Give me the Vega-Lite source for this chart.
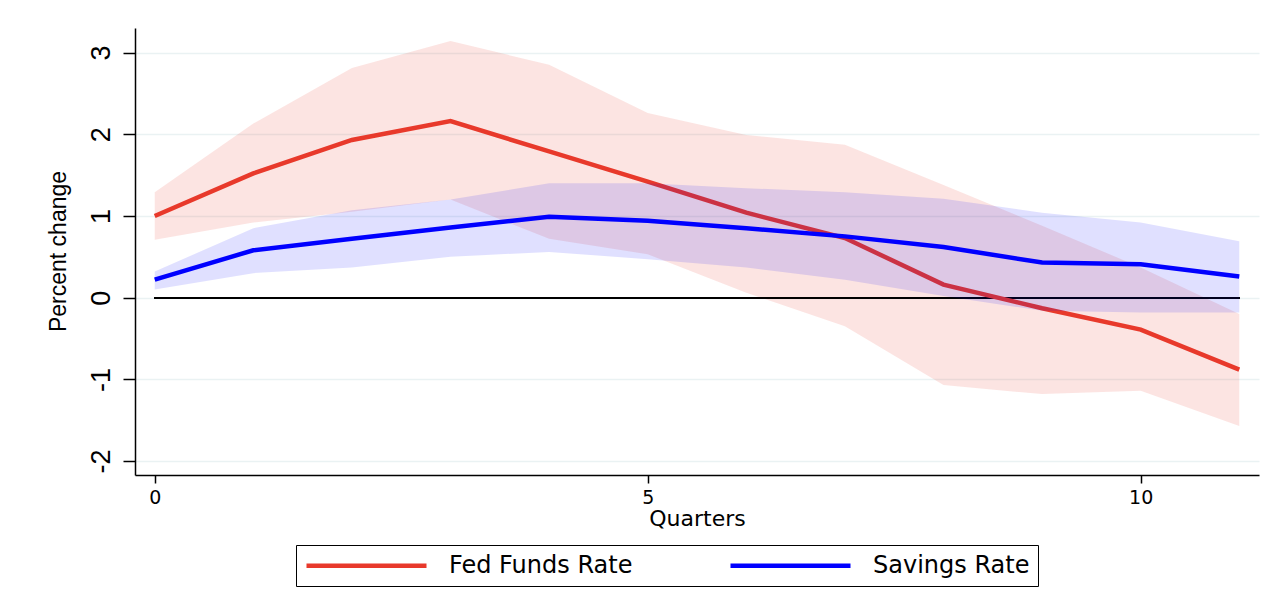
{
  "$schema": "https://vega.github.io/schema/vega-lite/v6.json",
  "width": 1124,
  "height": 447,
  "autosize": {"type": "none"},
  "padding": {"left": 135, "top": 28, "right": 25, "bottom": 134},
  "background": "white",
  "config": {
    "view": {"stroke": null},
    "axis": {"domainColor": "#000000", "domainWidth": 1.5, "tickColor": "#000000", "tickWidth": 1.5, "labelColor": "#000000", "titleColor": "#000000", "titleFontWeight": "normal"}
  },
  "data": {
    "values": [
      {"q": 0, "series": "Fed Funds Rate", "est": 1.00, "lo": 0.71, "hi": 1.29},
      {"q": 1, "series": "Fed Funds Rate", "est": 1.52, "lo": 0.92, "hi": 2.13},
      {"q": 2, "series": "Fed Funds Rate", "est": 1.93, "lo": 1.05, "hi": 2.81},
      {"q": 3, "series": "Fed Funds Rate", "est": 2.16, "lo": 1.20, "hi": 3.14},
      {"q": 4, "series": "Fed Funds Rate", "est": 1.79, "lo": 0.72, "hi": 2.85},
      {"q": 5, "series": "Fed Funds Rate", "est": 1.42, "lo": 0.53, "hi": 2.26},
      {"q": 6, "series": "Fed Funds Rate", "est": 1.04, "lo": 0.06, "hi": 1.99},
      {"q": 7, "series": "Fed Funds Rate", "est": 0.73, "lo": -0.35, "hi": 1.87},
      {"q": 8, "series": "Fed Funds Rate", "est": 0.16, "lo": -1.07, "hi": 1.38},
      {"q": 9, "series": "Fed Funds Rate", "est": -0.13, "lo": -1.18, "hi": 0.88},
      {"q": 10, "series": "Fed Funds Rate", "est": -0.39, "lo": -1.14, "hi": 0.37},
      {"q": 11, "series": "Fed Funds Rate", "est": -0.88, "lo": -1.57, "hi": -0.20},
      {"q": 0, "series": "Savings Rate", "est": 0.22, "lo": 0.10, "hi": 0.32},
      {"q": 1, "series": "Savings Rate", "est": 0.58, "lo": 0.30, "hi": 0.85},
      {"q": 2, "series": "Savings Rate", "est": 0.72, "lo": 0.37, "hi": 1.07},
      {"q": 3, "series": "Savings Rate", "est": 0.86, "lo": 0.50, "hi": 1.20},
      {"q": 4, "series": "Savings Rate", "est": 0.99, "lo": 0.56, "hi": 1.40},
      {"q": 5, "series": "Savings Rate", "est": 0.94, "lo": 0.47, "hi": 1.40},
      {"q": 6, "series": "Savings Rate", "est": 0.85, "lo": 0.37, "hi": 1.34},
      {"q": 7, "series": "Savings Rate", "est": 0.75, "lo": 0.22, "hi": 1.29},
      {"q": 8, "series": "Savings Rate", "est": 0.62, "lo": 0.02, "hi": 1.21},
      {"q": 9, "series": "Savings Rate", "est": 0.43, "lo": -0.16, "hi": 1.04},
      {"q": 10, "series": "Savings Rate", "est": 0.41, "lo": -0.18, "hi": 0.92},
      {"q": 11, "series": "Savings Rate", "est": 0.26, "lo": -0.18, "hi": 0.69}
    ]
  },
  "encoding": {
    "x": {
      "field": "q", "type": "quantitative",
      "scale": {"domain": [-0.2, 11.2], "nice": false, "zero": false},
      "axis": {
        "values": [0, 5, 10], "grid": false, "title": "Quarters",
        "tickSize": 8, "labelPadding": 5, "labelFont": "DejaVu Sans", "labelFontSize": 19,
        "titleFont": "DejaVu Sans", "titleFontSize": 22, "titleBaseline": "alphabetic", "titleY": 50, "titleX": 562
      }
    },
    "y": {
      "type": "quantitative",
      "scale": {"domain": [-2.17, 3.3], "nice": false, "zero": false},
      "axis": {
        "values": [-2, -1, 0, 1, 2, 3], "grid": true, "gridColor": "#eaf2f3", "gridWidth": 1.5,
        "title": "Percent change", "tickSize": 12, "labelPadding": 14,
        "labelExpr": "datum.value < 0 ? '-' + abs(datum.value) : '' + datum.value",
        "labelAngle": 270, "labelAlign": "center", "labelBaseline": "alphabetic",
        "labelFont": "Liberation Sans Narrow, Liberation Sans", "labelFontSize": 27,
        "titleFont": "Liberation Sans Narrow, Liberation Sans", "titleFontSize": 23,
        "titleAngle": 270, "titleBaseline": "alphabetic", "titleAlign": "center", "titleX": -70, "titleY": 223
      }
    }
  },
  "layer": [
    {
      "transform": [{"filter": "datum.series === 'Fed Funds Rate'"}],
      "mark": {"type": "area", "color": "#e8392b", "opacity": 0.136},
      "encoding": {"y": {"field": "lo"}, "y2": {"field": "hi"}}
    },
    {
      "mark": {"type": "rule", "color": "#000000", "strokeWidth": 1.5},
      "encoding": {"x": {"datum": 0}, "x2": {"datum": 11}, "y": {"datum": 0}}
    },
    {
      "transform": [{"filter": "datum.series === 'Fed Funds Rate'"}],
      "mark": {"type": "line", "strokeWidth": 4.5},
      "encoding": {
        "y": {"field": "est"},
        "color": {
          "field": "series", "type": "nominal",
          "scale": {"domain": ["Fed Funds Rate", "Savings Rate"], "range": ["#e8392b", "#0000ff"]},
          "legend": {
            "orient": "none", "legendX": 161, "legendY": 517, "direction": "horizontal",
            "title": null, "symbolType": "M-1,0H11", "symbolSize": 400, "symbolStrokeWidth": 4.5,
            "labelFont": "DejaVu Sans", "labelFontSize": 24, "labelColor": "#000000", "labelOffset": 120,
            "labelLimit": 500, "columnPadding": 88, "padding": 8, "strokeColor": "#000000", "fillColor": "#ffffff"
          }
        }
      }
    },
    {
      "transform": [{"filter": "datum.series === 'Savings Rate'"}],
      "mark": {"type": "area", "color": "#0000ff", "opacity": 0.12},
      "encoding": {"y": {"field": "lo"}, "y2": {"field": "hi"}}
    },
    {
      "transform": [{"filter": "datum.series === 'Savings Rate'"}],
      "mark": {"type": "line", "strokeWidth": 4.5},
      "encoding": {
        "y": {"field": "est"},
        "color": {"field": "series", "type": "nominal"}
      }
    }
  ]
}
